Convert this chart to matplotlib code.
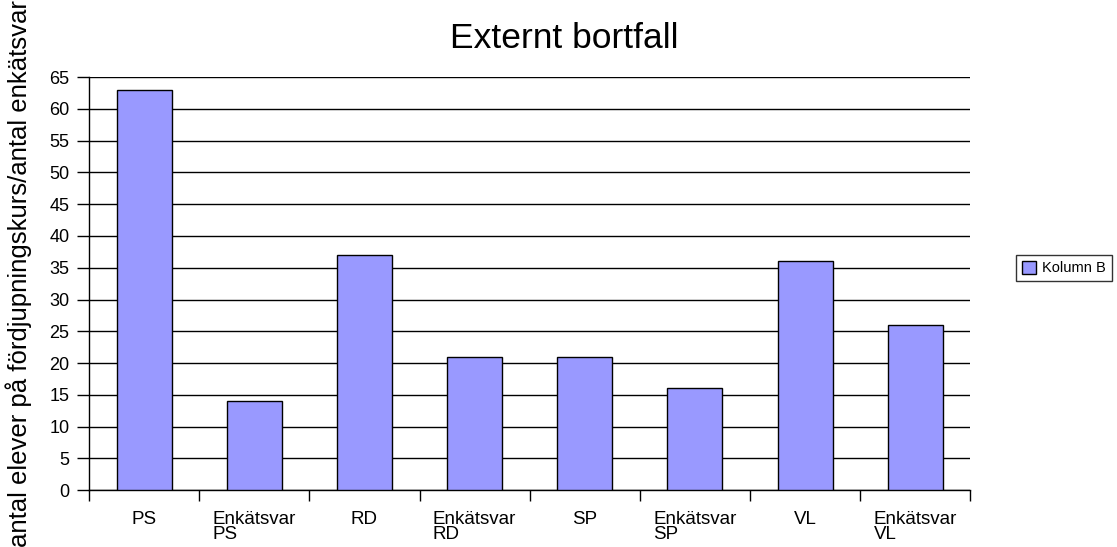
import matplotlib
matplotlib.use("Agg")
import matplotlib.pyplot as plt
from matplotlib.patches import Patch

categories = ["PS", "Enkätsvar\nPS", "RD", "Enkätsvar\nRD", "SP", "Enkätsvar\nSP", "VL", "Enkätsvar\nVL"]
values = [63, 14, 37, 21, 21, 16, 36, 26]
series_name = "Kolumn B"

plt.rcParams['font.family'] = ['Liberation Sans', 'DejaVu Sans']

fig = plt.figure(figsize=(11.17, 5.47), dpi=100)
ax = fig.add_axes([0.0797, 0.104, 0.789, 0.755])

x = list(range(len(categories)))
ax.bar(x, values, width=0.5, color='#9999ff', edgecolor='black', linewidth=1, zorder=3)

ax.set_xlim(-0.5, len(categories) - 0.5)
ax.set_ylim(0, 65)
ax.set_yticks(range(0, 66, 5))
ax.yaxis.grid(True, color='black', linewidth=1, zorder=0)
ax.set_axisbelow(True)

for s in ['top', 'right']:
    ax.spines[s].set_visible(False)
ax.spines['left'].set_linewidth(1)
ax.spines['bottom'].set_linewidth(1)

ax.set_xticks(x)
ax.set_xticklabels(categories, fontsize=13.5, ha='center', multialignment='left', linespacing=0.85)
ax.tick_params(axis='x', length=0, pad=15)

# category boundary ticks
ax.set_xticks([i - 0.5 for i in range(len(categories) + 1)], minor=True)
ax.tick_params(axis='x', which='minor', length=8, direction='out', width=1)
ax.tick_params(axis='y', length=9, direction='out', labelsize=13, width=1, pad=5)

ax.set_ylabel("antal elever på fördjupningskurs/antal enkätsvar", fontsize=18.5)
ax.yaxis.set_label_coords(-0.065, 0.525)

fig.suptitle("Externt bortfall", fontsize=25.5, x=0.505, y=0.96)

handle = Patch(facecolor='#9999ff', edgecolor='black', linewidth=1)
fig.legend([handle], [series_name], loc='center left', bbox_to_anchor=(0.903, 0.51),
           fontsize=10.5, frameon=True, fancybox=False, edgecolor='black',
           handlelength=1.0, handleheight=1.0, borderpad=0.4, handletextpad=0.4)

fig.savefig("out.png", dpi=100)
